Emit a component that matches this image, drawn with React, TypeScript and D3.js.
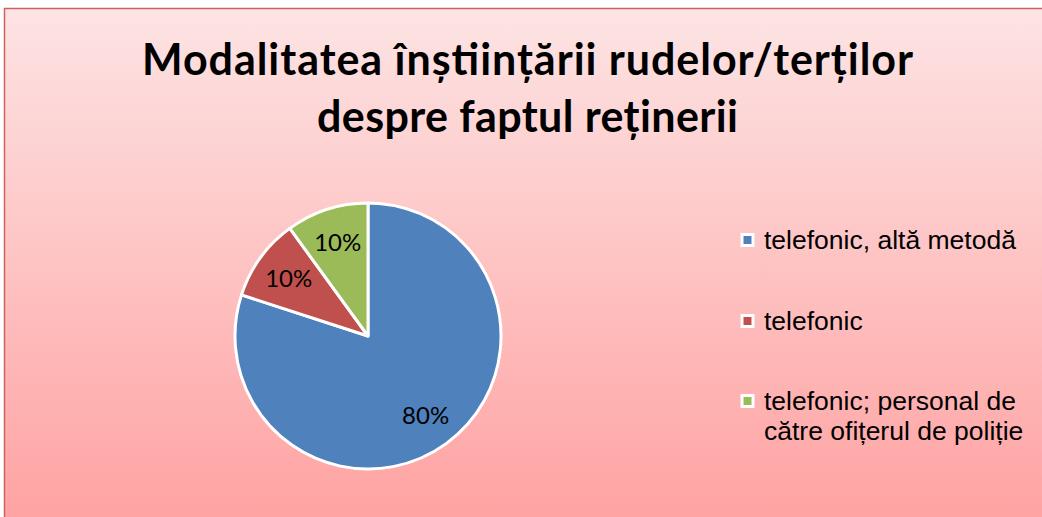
import React from "react";
import * as d3 from "d3";

const titleLines = ["Modalitatea înștiințării rudelor/terților", "despre faptul reținerii"];
const titleWidths = [771, 421];
const categories = ["telefonic, altă metodă", "telefonic", "telefonic; personal de către ofițerul de poliție"];
const legendLines = [["telefonic, altă metodă"], ["telefonic"], ["telefonic; personal de", "către ofițerul de poliție"]];
const values = [80, 10, 10];
const colors = ["#4f81bd", "#c0504d", "#9bbb59"];

const W = 1042;
const H = 517;

export default function App() {
  const cx = 368;
  const cy = 336;
  const r = 133;
  const pie = d3.pie<number>().sort(null).value((d) => d);
  const arcs = pie(values);
  const arc = d3.arc<d3.PieArcDatum<number>>().innerRadius(0).outerRadius(r);
  const labelArc = d3.arc<d3.PieArcDatum<number>>().innerRadius(98).outerRadius(98);
  const legendY = [240, 321, 401];

  return (
    <div style={{ position: "absolute", left: 0, top: 0 }}>
      <svg width={W} height={H} style={{ display: "block" }}>
        <defs>
          <linearGradient id="bg" x1="0" y1="0" x2="0" y2="1">
            <stop offset="0" stopColor="#fde4e4" />
            <stop offset="1" stopColor="#ffa0a0" />
          </linearGradient>
        </defs>
        <rect x={0} y={0} width={W} height={H} fill="#ffffff" />
        <rect x={4.5} y={8.5} width={W + 10} height={H + 10} fill="url(#bg)" stroke="#d06060" strokeWidth={1.5} />
        {titleLines.map((t, i) => (
          <text
            key={i}
            x={527.5}
            y={75 + i * 57}
            textAnchor="middle"
            textLength={titleWidths[i]}
            lengthAdjust="spacing"
            fontFamily="Lato, 'Open Sans', sans-serif"
            fontWeight="bold"
            fontSize={43}
            fill="#000"
          >
            {t}
          </text>
        ))}
        <g transform={`translate(${cx},${cy})`}>
          {arcs.map((a, i) => (
            <path key={i} d={arc(a) || ""} fill={colors[i]} stroke="#ffffff" strokeWidth={3} strokeLinejoin="round" />
          ))}
          {arcs.map((a, i) => {
            const [lx, ly] = labelArc.centroid(a);
            return (
              <text
                key={i}
                x={lx}
                y={ly}
                dy="0.35em"
                textAnchor="middle"
                fontFamily="Lato, 'Open Sans', sans-serif"
                fontSize={24}
                fill="#000"
              >
                {d3.format(".0%")(a.data / 100)}
              </text>
            );
          })}
        </g>
        {categories.map((c, i) => (
          <g key={c}>
            <rect
              x={742}
              y={legendY[i] - 5.5}
              width={11}
              height={11}
              fill={colors[i]}
              stroke="#ffffff"
              strokeWidth={3}
            />
            {legendLines[i].map((l, j) => (
              <text
                key={j}
                x={764}
                y={legendY[i] + 8.5 + j * 30}
                fontFamily="'Liberation Sans', Arial, sans-serif"
                fontSize={26.5}
                fill="#000"
              >
                {l}
              </text>
            ))}
          </g>
        ))}
      </svg>
    </div>
  );
}
